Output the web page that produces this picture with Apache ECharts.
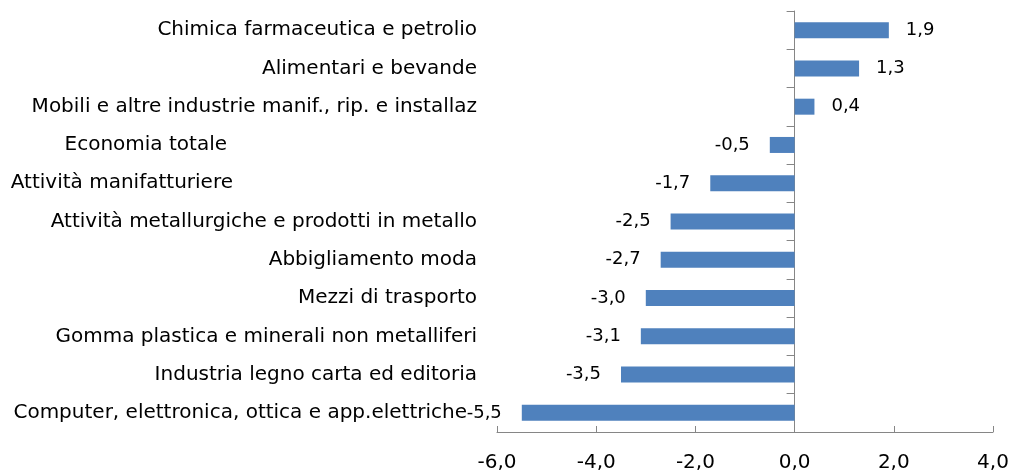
<!DOCTYPE html>
<html>
<head>
<meta charset="utf-8">
<script src="https://cdn.jsdelivr.net/npm/echarts@6/dist/echarts.min.js"></script>
<style>
  html, body { margin: 0; padding: 0; background: #fff; }
  #chart { width: 1012px; height: 473px; }
</style>
</head>
<body>
<div id="chart"></div>
<script>
const categories = [
  'Chimica farmaceutica e petrolio',
  'Alimentari e bevande',
  'Mobili e altre industrie manif., rip. e installaz',
  'Economia totale',
  'Attività manifatturiere',
  'Attività metallurgiche e prodotti in metallo',
  'Abbigliamento moda',
  'Mezzi di trasporto',
  'Gomma plastica e minerali non metalliferi',
  'Industria legno carta ed editoria',
  'Computer, elettronica, ottica e app.elettriche'
]
const values = [1.9, 1.3, 0.4, -0.5, -1.7, -2.5, -2.7, -3.0, -3.1, -3.5, -5.5]

// some labels in the original sit further left of the axis
const labelShift = {
  'Economia totale': 250,
  'Attività manifatturiere': 244,
  'Computer, elettronica, ottica e app.elettriche': 10
}

const fmt = (v) => v.toFixed(1).replace('.', ',')
const font = 'DejaVu Sans'

const myChart = echarts.init(document.getElementById('chart'))
const option = {
  animation: false,
  grid: { left: 497, right: 19, top: 11, bottom: 41, containLabel: false, outerBoundsMode: 'none' },
  xAxis: {
    type: 'value',
    min: -6,
    max: 4,
    interval: 2,
    axisLine: { show: true, lineStyle: { color: '#868686', width: 1 } },
    axisTick: { show: true, inside: true, length: 6, lineStyle: { color: '#868686' } },
    axisLabel: { color: '#000', fontSize: 20, fontFamily: font, margin: 21, formatter: fmt },
    splitLine: { show: false }
  },
  yAxis: {
    type: 'category',
    inverse: true,
    data: categories.map((c) => ({
      value: c,
      textStyle: { padding: [0, labelShift[c] || 0, 0, 0] }
    })),
    axisLine: { show: true, onZero: true, lineStyle: { color: '#868686', width: 1 } },
    axisTick: { show: true, length: 8, lineStyle: { color: '#868686' } },
    axisLabel: { color: '#000', fontSize: 20, fontFamily: font, margin: 20 }
  },
  series: [
    {
      type: 'bar',
      barWidth: 16,
      itemStyle: { color: '#4F81BD' },
      data: values.map((v) => ({
        value: v,
        label: { position: v >= 0 ? 'right' : 'left', distance: v >= 0 ? 17 : 20 }
      })),
      label: {
        show: true,
        color: '#000',
        fontSize: 18,
        fontFamily: font,
        formatter: (p) => fmt(p.value)
      }
    }
  ]
}

option && myChart.setOption(option)

window.addEventListener('resize', function () {
  myChart.resize()
})
</script>
</body>
</html>
